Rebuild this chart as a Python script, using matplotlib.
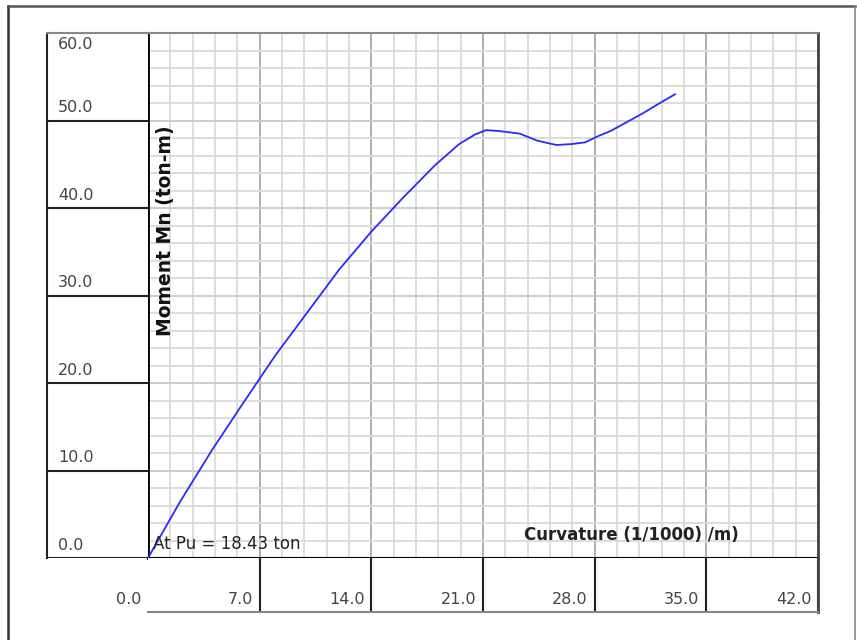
import matplotlib
matplotlib.use("Agg")
import matplotlib.pyplot as plt
import numpy as np

# Data
curvature = [0.0, 2.0, 4.0, 6.0, 8.0, 10.0, 12.0, 14.0, 16.0, 18.0, 19.5,
             20.5, 21.2, 22.0, 23.3, 24.4, 25.6, 26.5, 27.4, 28.2, 29.0,
             30.0, 31.0, 32.0, 33.04]
moment = [0.0, 6.4, 12.3, 17.8, 23.2, 28.1, 33.0, 37.3, 41.2, 44.9, 47.3,
          48.4, 48.9, 48.8, 48.5, 47.7, 47.2, 47.3, 47.5, 48.2, 48.8,
          49.8, 50.8, 51.9, 53.0]
x_ticks = [0.0, 7.0, 14.0, 21.0, 28.0, 35.0, 42.0]
y_ticks = [0.0, 10.0, 20.0, 30.0, 40.0, 50.0, 60.0]
x_label = "Curvature (1/1000) /m)"
y_label = "Moment Mn (ton-m)"
note = "At Pu = 18.43 ton"

W, H = 857, 640
fig = plt.figure(figsize=(W / 100, H / 100), dpi=100)
fig.patch.set_facecolor("white")

def fx(px):
    return px / W

def fy(py):
    return 1 - py / H

L, R, T, B = 148, 818, 33, 558
XB = 612
YL = 47

ax = fig.add_axes([fx(L), fy(B), (R - L) / W, (B - T) / H])
ax.set_xlim(0, 42)
ax.set_ylim(0, 60)

# grid
for v in np.arange(0, 42.01, 1.4):
    major = abs(v / 7 - round(v / 7)) < 1e-6
    ax.axvline(v, color="#a8a8a8" if major else "#dadada", lw=1.3, zorder=1)
for v in np.arange(0, 60.01, 2.0):
    major = abs(v / 10 - round(v / 10)) < 1e-6
    ax.axhline(v, color="#c8c8c8" if major else "#dadada", lw=1.3, zorder=1)

ax.plot(curvature, moment, color="#2a2aff", lw=1.3, zorder=3)

ax.set_xticks([])
ax.set_yticks([])
ax.spines["left"].set_color("black")
ax.spines["left"].set_linewidth(2.0)
ax.spines["bottom"].set_color("black")
ax.spines["bottom"].set_linewidth(1.5)
ax.spines["top"].set_color("#888888")
ax.spines["top"].set_linewidth(1.5)
ax.spines["right"].set_color("#444444")
ax.spines["right"].set_linewidth(2.0)

ax.text(0.3, 0.6, note, fontsize=12, color="#222222", ha="left", va="bottom",
        zorder=4)
ax.text((631 - L) / (R - L), (B - 535) / (B - T), x_label, fontsize=12,
        fontweight="bold", color="#222222", ha="center", va="center",
        transform=ax.transAxes, zorder=4)
ax.text((166 - L) / (R - L), (B - 231) / (B - T), y_label, fontsize=13.5,
        fontweight="bold", color="#111111", ha="center", va="center",
        rotation=90, transform=ax.transAxes, zorder=4)

# y-axis label box
axy = fig.add_axes([fx(YL), fy(B), (L - YL) / W, (B - T) / H])
axy.set_xlim(0, 1)
axy.set_ylim(0, 60)
axy.set_xticks([])
axy.set_yticks([])
for s in ["right", "bottom"]:
    axy.spines[s].set_visible(False)
axy.spines["left"].set_color("#222222")
axy.spines["left"].set_linewidth(1.5)
axy.spines["top"].set_color("#888888")
axy.spines["top"].set_linewidth(1.5)
for v in y_ticks:
    if v < y_ticks[-1]:
        axy.axhline(v, color="#222222", lw=1.5)
        axy.text(11 / (L - YL), v + 0.6, f"{v:.1f}", fontsize=11.5,
                 color="#444444", ha="left", va="bottom")
    else:
        axy.text(11 / (L - YL), v - 2.2, f"{v:.1f}", fontsize=11.5,
                 color="#444444", ha="left", va="bottom")

# x-axis label box
axx = fig.add_axes([fx(L), fy(XB), (R - L) / W, (XB - B) / H])
axx.set_xlim(0, 42)
axx.set_ylim(0, 1)
axx.set_xticks([])
axx.set_yticks([])
axx.spines["top"].set_visible(False)
axx.spines["left"].set_visible(False)
axx.spines["bottom"].set_color("#888888")
axx.spines["bottom"].set_linewidth(1.5)
axx.spines["right"].set_color("#444444")
axx.spines["right"].set_linewidth(2.0)
for v in x_ticks:
    if v > 0:
        axx.axvline(v, color="#222222", lw=1.5)
    axx.text(v - 0.42, 0.09, f"{v:.1f}", fontsize=11.5, color="#444444",
             ha="right", va="bottom", clip_on=False)

# outer frame
fig.add_artist(plt.Line2D([fx(8), fx(8)], [fy(6), 0], transform=fig.transFigure,
                          color="#333333", lw=1.8))
fig.add_artist(plt.Line2D([fx(8), fx(855)], [fy(6), fy(6)], transform=fig.transFigure,
                          color="#555555", lw=1.8))
fig.add_artist(plt.Line2D([fx(855), fx(855)], [fy(6), 0], transform=fig.transFigure,
                          color="#888888", lw=1.2))

fig.savefig("out.png", dpi=100)
